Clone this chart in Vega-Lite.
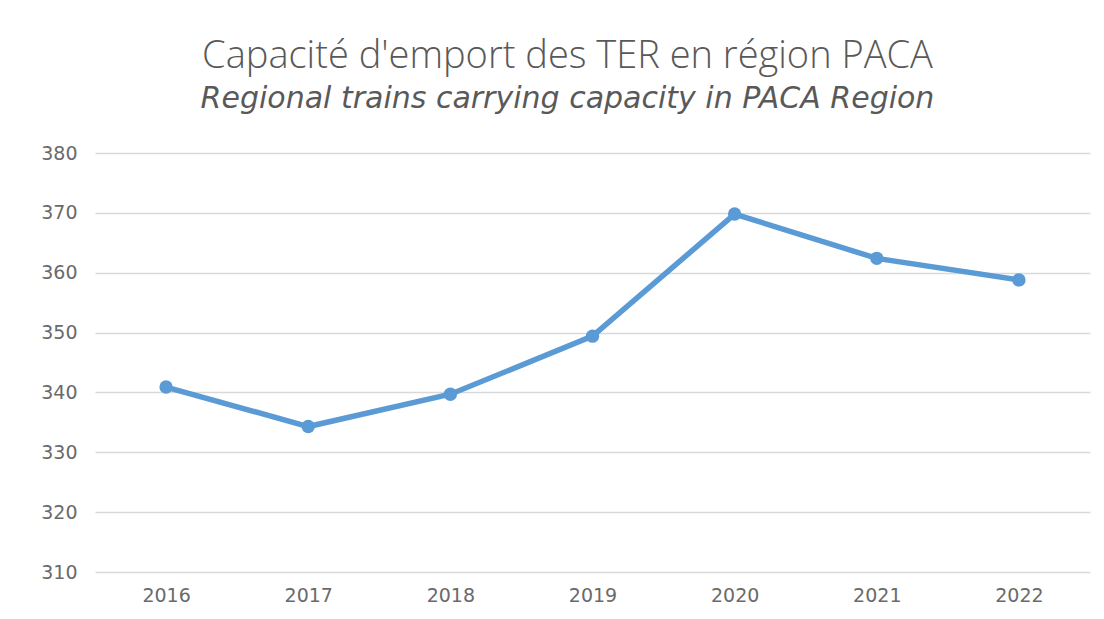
{
  "$schema": "https://vega.github.io/schema/vega-lite/v6.json",
  "autosize": "none",
  "width": 995,
  "height": 419,
  "padding": {"left": 95, "top": 153, "right": 19, "bottom": 47},
  "background": "white",
  "title": {
    "text": "Capacité d'emport des TER en région PACA",
    "subtitle": "Regional trains carrying capacity in PACA Region",
    "anchor": "middle",
    "dx": -25,
    "offset": 30,
    "font": "Open Sans",
    "fontSize": 38,
    "fontWeight": 300,
    "color": "#595959",
    "subtitleFont": "DejaVu Sans",
    "subtitleFontSize": 30,
    "subtitleFontStyle": "italic",
    "subtitleFontWeight": "normal",
    "subtitleColor": "#595959",
    "subtitlePadding": 8
  },
  "data": {
    "values": [
      {"year": "2016", "value": 340.9},
      {"year": "2017", "value": 334.3},
      {"year": "2018", "value": 339.7},
      {"year": "2019", "value": 349.4},
      {"year": "2020", "value": 369.8},
      {"year": "2021", "value": 362.4},
      {"year": "2022", "value": 358.8}
    ]
  },
  "mark": {"type": "line", "color": "#5B9BD5", "strokeWidth": 5.5, "point": {"filled": true, "size": 180, "color": "#5B9BD5"}},
  "encoding": {
    "x": {
      "field": "year",
      "type": "ordinal",
      "scale": {"type": "point", "padding": 0.5},
      "axis": {"title": null, "labelAngle": 0, "domain": false, "ticks": false, "labelPadding": 14, "labelFont": "DejaVu Sans", "labelFontSize": 19, "labelColor": "#6a6a6a"}
    },
    "y": {
      "field": "value",
      "type": "quantitative",
      "scale": {"domain": [310, 380], "zero": false, "nice": false},
      "axis": {"title": null, "values": [310, 320, 330, 340, 350, 360, 370, 380], "domain": false, "ticks": false, "labelPadding": 18, "labelFont": "DejaVu Sans", "labelFontSize": 19, "labelColor": "#6a6a6a", "gridColor": "#d9d9d9", "gridWidth": 1.5}
    }
  },
  "config": {"view": {"stroke": null}}
}
